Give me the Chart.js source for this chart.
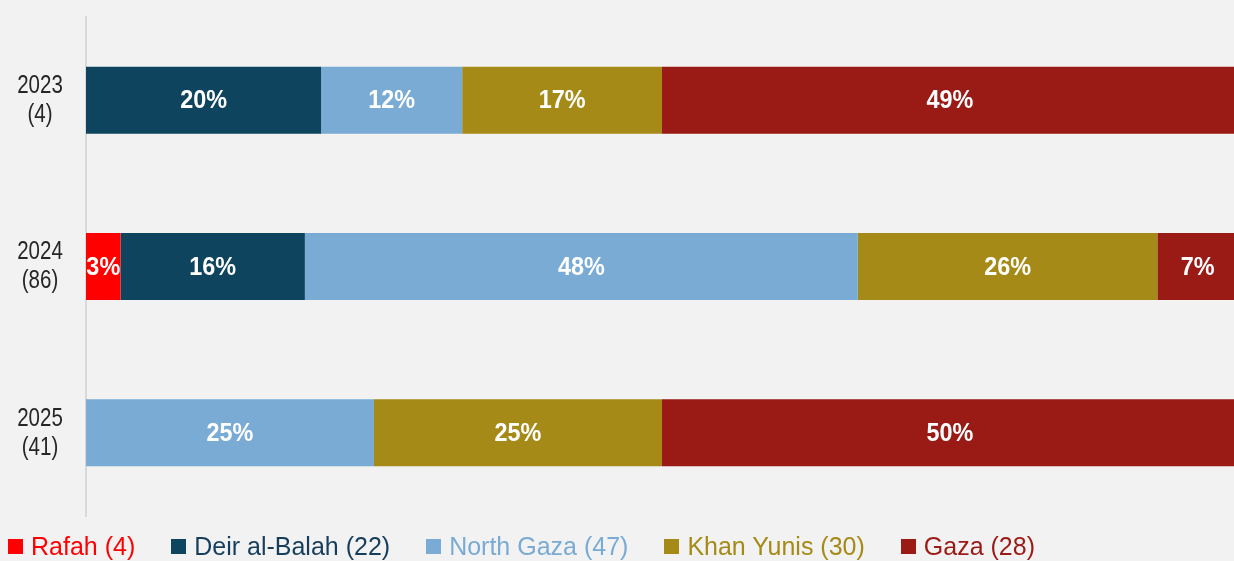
<!DOCTYPE html>
<html><head><meta charset="utf-8">
<script src="https://cdn.jsdelivr.net/npm/chart.js@4.4.1/dist/chart.umd.min.js"></script>
<style>
html,body{margin:0;padding:0;background:#f2f2f2;overflow:hidden;width:1234px;height:561px}
#wrap{position:relative;width:1238px;height:561px}
canvas{display:block}
#legend{position:absolute;left:8px;top:531px;display:flex;align-items:center;font-family:'Liberation Sans',Arial,sans-serif;font-size:25px;line-height:30px;white-space:nowrap}
.item{display:flex;align-items:center;margin-right:36px}
.box{width:15px;height:15px;margin-right:8px;flex:none}
</style></head><body>
<div id="wrap"><canvas id="c" width="1238" height="561"></canvas><div id="legend"></div></div>
<script>
const years = ['2023', '2024', '2025'];
const yearCounts = ['(4)', '(86)', '(41)'];
const seriesNames = ['Rafah', 'Deir al-Balah', 'North Gaza', 'Khan Yunis', 'Gaza'];
const seriesCounts = [4, 22, 47, 30, 28];
const rafah = [0, 3, 0];
const deirAlBalah = [20, 16, 0];
const northGaza = [12, 48, 25];
const khanYunis = [17, 26, 25];
const gaza = [49, 7, 50];
const colors = ['#ff0000', '#0f445f', '#79abd4', '#a68a17', '#9a1a16'];
const textColors = ['#ff0000', '#163e5c', '#79abd4', '#a68a17', '#9a1a16'];

const raw = [rafah, deirAlBalah, northGaza, khanYunis, gaza];
const totals = years.map((_, j) => raw.reduce((s, a) => s + a[j], 0));

const datasets = raw.map((vals, i) => ({
  label: seriesNames[i] + ' (' + seriesCounts[i] + ')',
  data: vals.map((v, j) => v / totals[j] * 100),
  rawValues: vals,
  backgroundColor: colors[i],
  borderWidth: 0,
  categoryPercentage: 1,
  barPercentage: 0.403
}));

function narrowText(ctx, text, x, y, sx) {
  ctx.save();
  ctx.translate(x, y);
  ctx.scale(sx, 1);
  ctx.fillText(text, 0, 0);
  ctx.restore();
}

const labelPlugin = {
  id: 'segLabels',
  afterDatasetsDraw(chart) {
    const ctx = chart.ctx;
    ctx.save();
    ctx.font = 'bold 26px "Liberation Sans", Arial, sans-serif';
    ctx.fillStyle = '#ffffff';
    ctx.textAlign = 'center';
    ctx.textBaseline = 'middle';
    chart.data.datasets.forEach((ds, i) => {
      const meta = chart.getDatasetMeta(i);
      meta.data.forEach((el, j) => {
        const v = ds.rawValues[j];
        if (!v) return;
        const p = el.getProps(['x', 'y', 'base'], true);
        narrowText(ctx, v + '%', (p.x + p.base) / 2, p.y + 1, 0.9);
      });
    });
    ctx.restore();
  }
};

const yLabelPlugin = {
  id: 'yLabels',
  afterDraw(chart) {
    const ctx = chart.ctx;
    const ys = chart.scales.y;
    ctx.save();
    ctx.font = '25px "Liberation Sans", Arial, sans-serif';
    ctx.fillStyle = '#262626';
    ctx.textAlign = 'center';
    ctx.textBaseline = 'middle';
    years.forEach((yr, i) => {
      const py = ys.getPixelForTick(i);
      narrowText(ctx, yr, 40, py - 14, 0.82);
      narrowText(ctx, yearCounts[i], 40, py + 15, 0.82);
    });
    ctx.restore();
  }
};

new Chart(document.getElementById('c'), {
  type: 'bar',
  data: { labels: years, datasets },
  options: {
    indexAxis: 'y',
    responsive: false,
    animation: false,
    devicePixelRatio: 1,
    layout: { padding: { top: 17, bottom: 45, left: 0, right: 0 } },
    plugins: { legend: { display: false }, tooltip: { enabled: false } },
    scales: {
      x: { stacked: true, min: 0, max: 100, display: false },
      y: {
        stacked: true,
        z: 1,
        grid: { display: false, drawTicks: false },
        border: { display: true, color: '#d9d9d9', width: 2 },
        afterFit: s => { s.width = 86; s.paddingTop = 0; s.paddingBottom = 0; },
        ticks: { display: false }
      }
    }
  },
  plugins: [labelPlugin, yLabelPlugin]
});

const leg = document.getElementById('legend');
seriesNames.forEach((n, i) => {
  const it = document.createElement('div');
  it.className = 'item';
  const b = document.createElement('span');
  b.className = 'box';
  b.style.background = colors[i];
  const t = document.createElement('span');
  t.textContent = n + ' (' + seriesCounts[i] + ')';
  t.style.color = textColors[i];
  it.appendChild(b); it.appendChild(t);
  leg.appendChild(it);
});
</script>
</body></html>
